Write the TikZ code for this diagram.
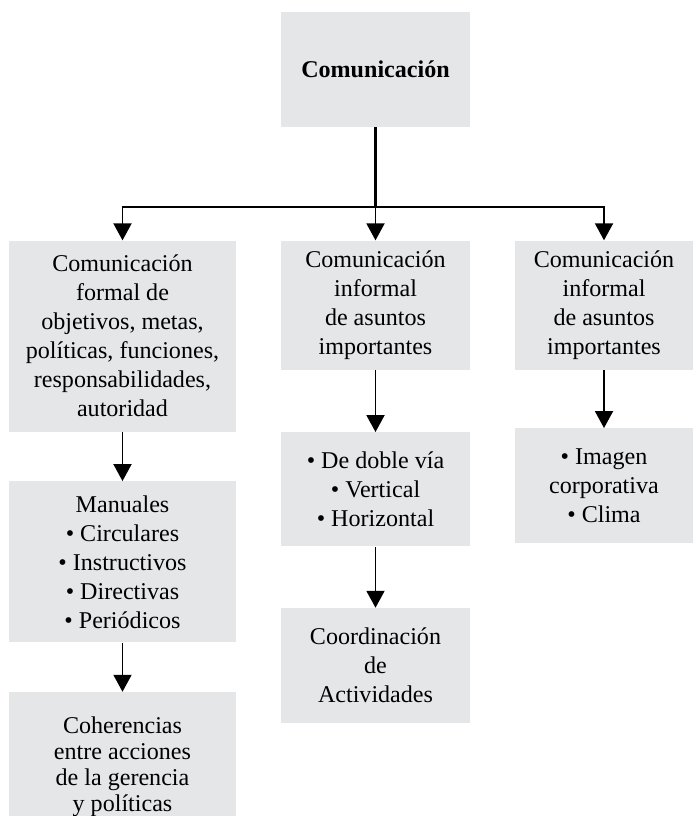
\documentclass[tikz,border=0pt]{standalone}
\usepackage{fontspec}
\setmainfont{Liberation Serif}
\usetikzlibrary{arrows.meta,positioning}
\definecolor{boxgray}{RGB}{229,230,232}

\begin{document}
\begin{tikzpicture}[
      box/.style={fill=boxgray, align=center, inner sep=2pt, font=\fontsize{13.7}{16.5}\selectfont},
      lbox/.style={box, minimum width=4.54cm},
      mbox/.style={box, minimum width=3.78cm},
      rbox/.style={box, minimum width=3.56cm},
      arrow/.style={-{Triangle[length=3.4mm, width=3.6mm]}, line width=1.1pt, black},
      trunk/.style={line width=1.6pt, black}
  ]
      \useasboundingbox (0,0) rectangle (13.88,-16.32);

      \node[mbox, minimum height=2.30cm, font=\fontsize{13.7}{16.5}\selectfont\bfseries] (top) at (7.51,-1.39) {Comunicación};

      % primera fila
      \node[lbox, minimum height=3.82cm, below=2.26cm of top, xshift=-5.06cm] (formal) {Comunicación\\formal de\\objetivos, metas,\\políticas, funciones,\\responsabilidades,\\autoridad};
      \node[mbox, minimum height=2.58cm, below=2.26cm of top] (informal) {Comunicación\\informal\\de asuntos\\importantes};
      \node[rbox, minimum height=2.58cm, below=2.26cm of top, xshift=4.57cm] (informaldos) {Comunicación\\informal\\de asuntos\\importantes};

      % columna izquierda
      \node[lbox, minimum height=3.22cm, below=0.98cm of formal] (manuales) {Manuales\\• Circulares\\• Instructivos\\• Directivas\\• Periódicos};
      \node[lbox, minimum height=2.98cm, below=0.98cm of manuales, font=\fontsize{13.7}{14.7}\selectfont] (coherencia) {Coherencias\\entre acciones\\de la gerencia\\y políticas};

      % columna central
      \node[mbox, minimum height=2.28cm, below=1.24cm of informal] (via) {• De doble vía\\• Vertical\\• Horizontal};
      \node[mbox, minimum height=2.30cm, below=1.22cm of via] (coord) {Coordinación\\de\\Actividades};

      % columna derecha
      \node[rbox, minimum height=2.30cm, below=1.16cm of informaldos] (imagen) {• Imagen\\corporativa\\• Clima};

      \coordinate (bus) at (7.51,-4.14);

      \draw[trunk] (top) -- (bus);
      \draw[arrow] (bus) -- (informal);
      \draw[arrow] (bus) -| (formal);
      \draw[arrow] (bus) -| (informaldos);
      \draw[arrow] (formal) -- (manuales);
      \draw[arrow] (manuales) -- (coherencia);
      \draw[arrow] (informal) -- (via);
      \draw[arrow] (via) -- (coord);
      \draw[arrow] (informaldos) -- (imagen);
  \end{tikzpicture}
\end{document}
